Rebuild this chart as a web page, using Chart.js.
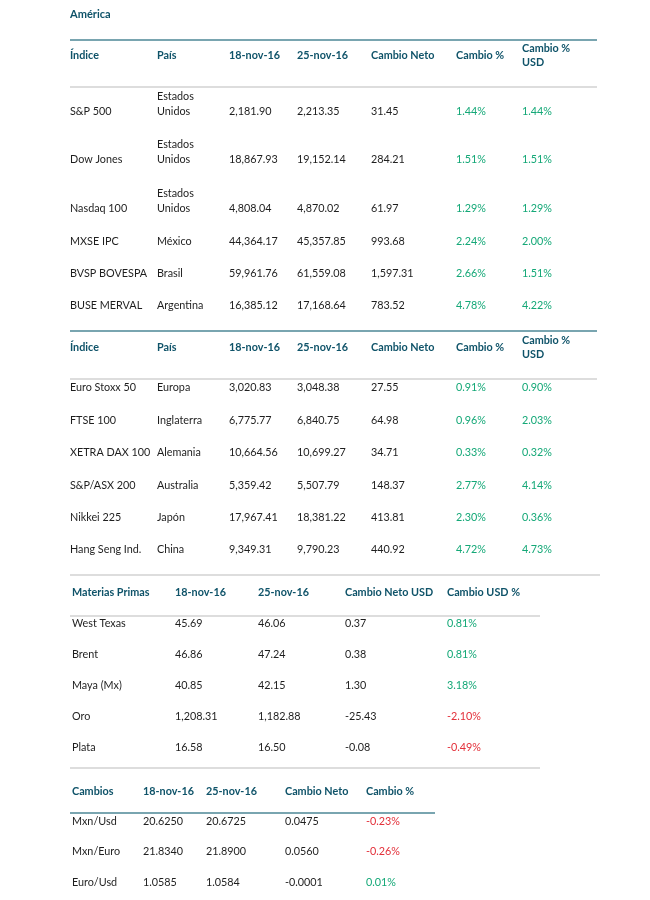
<!DOCTYPE html>
<html><head><meta charset="utf-8">
<script src="https://cdn.jsdelivr.net/npm/chart.js@4.4.1/dist/chart.umd.min.js"></script>
<style>html,body{margin:0;padding:0;background:#fff}#wrap{position:relative;width:650px;height:900px}</style>
</head><body><div id="wrap"><canvas id="c" width="650" height="900"></canvas></div>
<script>
// ---------- DATA ----------
const sectionTitle = 'América';
const indexHeaders = ['Índice', 'País', '18-nov-16', '25-nov-16', 'Cambio Neto', 'Cambio %', 'Cambio %\nUSD'];

const americaIndices   = ['S&P 500', 'Dow Jones', 'Nasdaq 100', 'MXSE IPC', 'BVSP BOVESPA', 'BUSE MERVAL'];
const americaCountries = ['Estados\nUnidos', 'Estados\nUnidos', 'Estados\nUnidos', 'México', 'Brasil', 'Argentina'];
const americaPrev      = [2181.90, 18867.93, 4808.04, 44364.17, 59961.76, 16385.12];
const americaLast      = [2213.35, 19152.14, 4870.02, 45357.85, 61559.08, 17168.64];
const americaNet       = [31.45, 284.21, 61.97, 993.68, 1597.31, 783.52];
const americaPct       = [1.44, 1.51, 1.29, 2.24, 2.66, 4.78];
const americaPctUsd    = [1.44, 1.51, 1.29, 2.00, 1.51, 4.22];

const europeIndices   = ['Euro Stoxx 50', 'FTSE 100', 'XETRA DAX 100', 'S&P/ASX 200', 'Nikkei 225', 'Hang Seng Ind.'];
const europeCountries = ['Europa', 'Inglaterra', 'Alemania', 'Australia', 'Japón', 'China'];
const europePrev      = [3020.83, 6775.77, 10664.56, 5359.42, 17967.41, 9349.31];
const europeLast      = [3048.38, 6840.75, 10699.27, 5507.79, 18381.22, 9790.23];
const europeNet       = [27.55, 64.98, 34.71, 148.37, 413.81, 440.92];
const europePct       = [0.91, 0.96, 0.33, 2.77, 2.30, 4.72];
const europePctUsd    = [0.90, 2.03, 0.32, 4.14, 0.36, 4.73];

const commodityHeaders = ['Materias Primas', '18-nov-16', '25-nov-16', 'Cambio Neto USD', 'Cambio USD %'];
const commodityNames   = ['West Texas', 'Brent', 'Maya (Mx)', 'Oro', 'Plata'];
const commodityPrev    = [45.69, 46.86, 40.85, 1208.31, 16.58];
const commodityLast    = [46.06, 47.24, 42.15, 1182.88, 16.50];
const commodityNet     = [0.37, 0.38, 1.30, -25.43, -0.08];
const commodityPct     = [0.81, 0.81, 3.18, -2.10, -0.49];

const fxHeaders = ['Cambios', '18-nov-16', '25-nov-16', 'Cambio Neto', 'Cambio %'];
const fxPairs   = ['Mxn/Usd', 'Mxn/Euro', 'Euro/Usd'];
const fxPrev    = [20.6250, 21.8340, 1.0585];
const fxLast    = [20.6725, 21.8900, 1.0584];
const fxNet     = [0.0475, 0.0560, -0.0001];
const fxPct     = [-0.23, -0.26, 0.01];

// ---------- STYLE / LAYOUT ----------
const C_HEAD = '#0f5369', C_TEXT = '#1e1e1e', C_POS = '#14a877', C_NEG = '#e3303a';
const C_RULE_TEAL = '#4d8796', C_RULE_GRAY = '#d2d2d2';
const FONT = 'Lato, "Open Sans", sans-serif';

const fmt = (v, d) => v.toLocaleString('en-US', {minimumFractionDigits: d, maximumFractionDigits: d});
const pct = v => ({text: fmt(v, 2) + '%', color: v < 0 ? C_NEG : C_POS});
const plain = (v, d) => ({text: typeof v === 'number' ? fmt(v, d) : v, color: C_TEXT});

function buildRows(cols) {
  return cols[0].map((_, i) => cols.map(c => c[i]));
}

const tables = [
  { headers: indexHeaders, colX: [70, 157, 229, 297, 371, 456, 522], headerY: 55, size: 12, squeeze: 0.9, lh: 14.5,
    rowY: [111, 159, 208, 241, 273, 305],
    rows: buildRows([
      americaIndices.map(v => plain(v)), americaCountries.map(v => plain(v)),
      americaPrev.map(v => plain(v, 2)), americaLast.map(v => plain(v, 2)), americaNet.map(v => plain(v, 2)),
      americaPct.map(pct), americaPctUsd.map(pct)]),
    rules: [[40, 70, 597, C_RULE_TEAL], [87, 70, 597, C_RULE_GRAY]] },
  { headers: indexHeaders, colX: [70, 157, 229, 297, 371, 456, 522], headerY: 347, size: 12, squeeze: 0.9, lh: 14.5,
    rowY: [387, 420, 452, 485, 517, 549],
    rows: buildRows([
      europeIndices.map(v => plain(v)), europeCountries.map(v => plain(v)),
      europePrev.map(v => plain(v, 2)), europeLast.map(v => plain(v, 2)), europeNet.map(v => plain(v, 2)),
      europePct.map(pct), europePctUsd.map(pct)]),
    rules: [[331, 70, 597, C_RULE_TEAL], [379, 70, 597, C_RULE_GRAY], [575, 70, 600, C_RULE_GRAY]] },
  { headers: commodityHeaders, colX: [72, 175, 258, 345, 447], headerY: 593, size: 10.8, squeeze: 1, lh: 13,
    rowY: [624, 655, 686, 717, 748],
    rows: buildRows([
      commodityNames.map(v => plain(v)), commodityPrev.map(v => plain(v, 2)), commodityLast.map(v => plain(v, 2)),
      commodityNet.map(v => plain(v, 2)), commodityPct.map(pct)]),
    rules: [[616, 70, 540, C_RULE_GRAY], [768, 70, 540, C_RULE_GRAY]] },
  { headers: fxHeaders, colX: [72, 143, 206, 285, 366], headerY: 792, size: 10.8, squeeze: 1, lh: 13,
    rowY: [822, 852, 883],
    rows: buildRows([
      fxPairs.map(v => plain(v)), fxPrev.map(v => plain(v, 4)), fxLast.map(v => plain(v, 4)),
      fxNet.map(v => plain(v, 4)), fxPct.map(pct)]),
    rules: [[813, 70, 435, C_RULE_TEAL]] }
];

const tablePlugin = {
  id: 'tablePlugin',
  afterDraw(chart) {
    const ctx = chart.ctx, sx = chart.scales.x, sy = chart.scales.y;
    ctx.save();
    ctx.textAlign = 'left';
    ctx.textBaseline = 'middle';
    const put = (str, x, y, size, squeeze, lh, bold, color, valign) => {
      const lines = String(str).split('\n');
      ctx.font = (bold ? 'bold ' : '') + size + 'px ' + FONT;
      ctx.fillStyle = color;
      lines.forEach((ln, k) => {
        const yy = valign === 'center'
          ? y + (k - (lines.length - 1) / 2) * lh
          : y - (lines.length - 1 - k) * lh;
        ctx.save();
        ctx.translate(sx.getPixelForValue(x), sy.getPixelForValue(yy));
        ctx.scale(squeeze, 1);
        ctx.fillText(ln, 0, 0);
        ctx.restore();
      });
    };
    put(sectionTitle, 70, 14, 12, 0.92, 14, true, C_HEAD, 'center');
    tables.forEach(t => {
      t.rules.forEach(([y, x0, x1, col]) => {
        ctx.strokeStyle = col; ctx.lineWidth = 1.5;
        ctx.beginPath();
        ctx.moveTo(sx.getPixelForValue(x0), sy.getPixelForValue(y));
        ctx.lineTo(sx.getPixelForValue(x1), sy.getPixelForValue(y));
        ctx.stroke();
      });
      t.headers.forEach((h, c) => put(h, t.colX[c], t.headerY, t.size, t.squeeze, t.lh, true, C_HEAD, 'center'));
      t.rows.forEach((row, r) => row.forEach((cell, c) =>
        put(cell.text, t.colX[c], t.rowY[r], t.size, t.squeeze, t.lh, false, cell.color, 'bottom')));
    });
    ctx.restore();
  }
};

new Chart(document.getElementById('c'), {
  type: 'scatter',
  data: { datasets: [] },
  options: {
    responsive: false, animation: false, events: [],
    layout: { padding: 0 },
    plugins: { legend: { display: false }, tooltip: { enabled: false } },
    scales: {
      x: { type: 'linear', min: 0, max: 650, display: false },
      y: { type: 'linear', min: 0, max: 900, reverse: true, display: false }
    }
  },
  plugins: [tablePlugin]
});
</script></body></html>
